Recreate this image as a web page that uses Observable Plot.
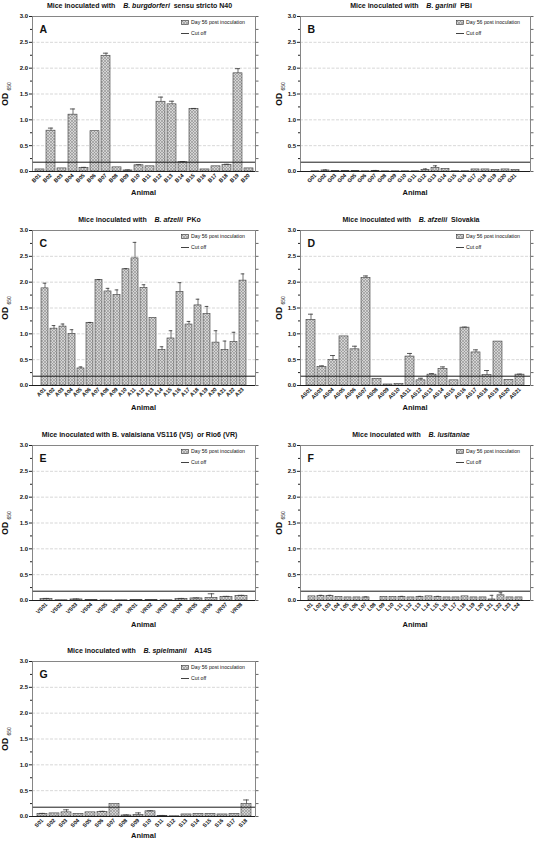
<!DOCTYPE html>
<html><head><meta charset="utf-8">
<script src="https://cdn.jsdelivr.net/npm/d3@7"></script>
<script src="https://cdn.jsdelivr.net/npm/@observablehq/plot@0.6"></script>
<style>
body{margin:0;background:#fff;font-family:"Liberation Sans",Arial,sans-serif;color:#111;}
#root{position:relative;width:536px;height:842px;overflow:hidden;}
.abs{position:absolute;}
.title{font-weight:bold;font-size:7px;white-space:pre;transform:translate(-50%,-50%);}
.ylab{font-weight:bold;font-size:8.5px;white-space:pre;transform:translate(-50%,-50%) rotate(-90deg);}
.ylab sub{font-size:5px;font-weight:normal;}
.xlab{font-weight:bold;font-size:7.5px;line-height:8px;transform:translate(-50%,-50%);}
.legend{font-size:5.2px;line-height:11px;}
.legend div{display:flex;align-items:center;justify-content:flex-start;white-space:pre;}
</style></head><body>
<svg width="0" height="0" style="position:absolute"><defs>
<pattern id="hatch" patternUnits="userSpaceOnUse" width="3" height="3">
<rect width="3" height="3" fill="#d4d4d4"/>
<path d="M0,0L3,3M3,0L0,3" stroke="#888" stroke-width="0.55"/>
</pattern></defs></svg>
<div id="root"></div>
<script>
const cutoff = 0.18;

// Panel A: B. burgdorferi N40
const animalsA = ["B01","B02","B03","B04","B05","B06","B07","B08","B09","B10","B11","B12","B13","B14","B15","B16","B17","B18","B19","B20"];
const valuesA  = [0.04,0.79,0.06,1.10,0.07,0.78,2.24,0.08,0.02,0.12,0.10,1.35,1.30,0.18,1.21,0.04,0.10,0.13,1.90,0.06];
const errorsA  = [0.04,0.84,0.06,1.21,0.08,0.78,2.29,0.08,0.03,0.13,0.10,1.44,1.36,0.19,1.22,0.04,0.10,0.14,1.99,0.06];

// Panel B: B. garinii PBi
const animalsB = ["G01","G02","G03","G04","G05","G06","G07","G08","G09","G10","G11","G12","G13","G14","G15","G16","G17","G18","G19","G20","G21"];
const valuesB  = [0.005,0.02,0.01,0.01,0.01,0.005,0.01,0.005,0.005,0.005,0.005,0.03,0.07,0.05,0.005,0.005,0.04,0.04,0.03,0.04,0.03];
const errorsB  = [0.005,0.03,0.01,0.01,0.01,0.005,0.02,0.005,0.005,0.005,0.005,0.05,0.11,0.05,0.005,0.005,0.04,0.04,0.03,0.04,0.03];

// Panel C: B. afzelii PKo
const animalsC = ["A01","A02","A03","A04","A05","A06","A07","A08","A09","A10","A11","A12","A13","A14","A15","A16","A17","A18","A19","A20","A21","A22","A23"];
const valuesC  = [1.88,1.10,1.14,1.00,0.33,1.21,2.04,1.82,1.75,2.25,2.46,1.89,1.31,0.69,0.91,1.81,1.18,1.55,1.38,0.83,0.69,0.84,2.03];
const errorsC  = [1.98,1.16,1.19,1.08,0.36,1.22,2.05,1.88,1.85,2.26,2.77,1.95,1.31,0.75,1.06,1.99,1.24,1.67,1.53,1.06,0.86,1.03,2.16];

// Panel D: B. afzelii Slovakia
const animalsD = ["AS01","AS03","AS04","AS05","AS06","AS07","AS08","AS09","AS10","AS11","AS12","AS13","AS14","AS15","AS16","AS17","AS18","AS19","AS20","AS21"];
const valuesD  = [1.27,0.36,0.49,0.95,0.70,2.08,0.13,0.02,0.03,0.56,0.10,0.21,0.32,0.10,1.12,0.64,0.20,0.85,0.11,0.21];
const errorsD  = [1.38,0.38,0.58,0.95,0.76,2.12,0.13,0.02,0.03,0.62,0.14,0.23,0.36,0.10,1.13,0.69,0.29,0.85,0.11,0.22];

// Panel E: B. valaisiana VS116 (VS) or Rio6 (VR)
const animalsE = ["VS01","VS02","VS03","VS04","VS05","VS06","VR01","VR02","VR03","VR04","VR05","VR06","VR07","VR08"];
const valuesE  = [0.03,0.005,0.02,0.01,0.005,0.005,0.01,0.01,0.005,0.03,0.04,0.05,0.07,0.09];
const errorsE  = [0.04,0.005,0.03,0.01,0.005,0.005,0.01,0.01,0.005,0.04,0.05,0.13,0.08,0.10];

// Panel F: B. lusitaniae
const animalsF = ["L01","L02","L03","L04","L05","L06","L07","L08","L09","L10","L11","L12","L13","L14","L15","L16","L17","L18","L19","L20","L21","L22","L23","L24"];
const valuesF  = [0.08,0.09,0.09,0.07,0.06,0.06,0.06,0.0,0.07,0.07,0.07,0.06,0.07,0.08,0.07,0.06,0.06,0.08,0.06,0.06,0.02,0.10,0.06,0.06];
const errorsF  = [0.08,0.10,0.10,0.07,0.06,0.06,0.07,0.0,0.07,0.07,0.08,0.06,0.08,0.08,0.08,0.06,0.06,0.08,0.06,0.06,0.10,0.15,0.06,0.06];

// Panel G: B. spielmanii A14S
const animalsG = ["S01","S02","S03","S04","S05","S06","S07","S08","S09","S10","S11","S12","S13","S14","S15","S16","S17","S18"];
const valuesG  = [0.05,0.06,0.08,0.05,0.08,0.09,0.24,0.02,0.03,0.10,0.01,0.005,0.04,0.05,0.05,0.04,0.05,0.24];
const errorsG  = [0.06,0.06,0.13,0.05,0.08,0.10,0.24,0.03,0.07,0.11,0.02,0.005,0.04,0.05,0.05,0.04,0.05,0.32];

const majorTicks = [0, 0.5, 1.0, 1.5, 2.0, 2.5, 3.0];
const minorTicks = [0.25, 0.75, 1.25, 1.75, 2.25, 2.75];
const gridTicks = [0.5, 1.0, 1.5, 2.0, 2.5];
const legendLabels = ["Day 56 post inoculation", "Cut off"];

const panels = [
  {letter:"A", col:0, row:0, animals:animalsA, values:valuesA, errors:errorsA,
   title:'Mice inoculated with    <i>B. burgdorferi</i>  sensu stricto N40'},
  {letter:"B", col:1, row:0, animals:animalsB, values:valuesB, errors:errorsB,
   title:'Mice inoculated with    <i>B. garinii</i>  PBi'},
  {letter:"C", col:0, row:1, animals:animalsC, values:valuesC, errors:errorsC,
   title:'Mice inoculated with    <i>B. afzelii</i>  PKo'},
  {letter:"D", col:1, row:1, animals:animalsD, values:valuesD, errors:errorsD,
   title:'Mice inoculated with    <i>B. afzelii</i>  Slovakia'},
  {letter:"E", col:0, row:2, animals:animalsE, values:valuesE, errors:errorsE,
   title:'Mice inoculated with B. valaisiana VS116 (VS)  or Rio6 (VR)'},
  {letter:"F", col:1, row:2, animals:animalsF, values:valuesF, errors:errorsF,
   title:'Mice inoculated with    <i>B. lusitaniae</i>'},
  {letter:"G", col:0, row:3, animals:animalsG, values:valuesG, errors:errorsG,
   title:'Mice inoculated with    <i>B. spielmanii</i>    A14S'}
];

const rowTops = [16, 230, 445, 661];
const animalOffsets = [22, 23, 25, 20];
const root = document.getElementById("root");
const plotH = 155, mT = 6, mB = 32;

function addDiv(cls, html, left, top, extra) {
  const d = document.createElement("div");
  d.className = "abs " + cls;
  d.innerHTML = html;
  d.style.left = left + "px";
  d.style.top = top + "px";
  if (extra) Object.assign(d.style, extra);
  root.appendChild(d);
  return d;
}

for (const p of panels) {
  const W = 268;
  const svgLeft = p.col * 268;
  const mL = 32, mR = p.col === 0 ? 13 : 6;
  const plotTop = rowTops[p.row];
  const plotLeft = svgLeft + mL, plotRight = svgLeft + W - mR;
  const data = p.animals.map((a, i) => ({animal: a, value: p.values[i], err: p.errors[i]}));
  const errData = data.filter(d => d.err > d.value + 0.001);
  const n = data.length, pad = 0.2;
  const step = (W - mL - mR) / (n + pad);
  const bw = step * (1 - pad);
  const ins = bw * 0.22;

  const chart = Plot.plot({
    width: W, height: mT + plotH + mB,
    marginLeft: mL, marginRight: mR, marginTop: mT, marginBottom: mB,
    style: {fontFamily: "Liberation Sans, Arial, sans-serif", fontSize: "6px", background: "transparent", overflow: "visible"},
    x: {type: "band", domain: p.animals, padding: pad, label: null},
    y: {domain: [0, 3], label: null},
    marks: [
      Plot.ruleY(gridTicks, {stroke: "#bdbdbd", strokeWidth: 0.6, strokeDasharray: "3,1.5"}),
      Plot.barY(data, {x: "animal", y: "value", fill: "url(#hatch)", stroke: "#3a3a3a", strokeWidth: 0.6}),
      Plot.ruleX(errData, {x: "animal", y1: "value", y2: "err", stroke: "#333", strokeWidth: 0.7}),
      Plot.tickY(errData, {x: "animal", y: "err", stroke: "#333", strokeWidth: 0.8, insetLeft: ins, insetRight: ins}),
      Plot.ruleY([cutoff], {stroke: "#1a1a1a", strokeWidth: 1}),
      Plot.frame({stroke: "#7a7a7a", strokeWidth: 0.9}),
      Plot.ruleY([0], {stroke: "#111", strokeWidth: 0.9}),
      Plot.axisY({ticks: majorTicks, tickFormat: d => d.toFixed(1), tickSize: 3, tickPadding: 1.5, fontWeight: "bold", fontSize: 6, label: null, stroke: "#222"}),
      Plot.axisY({ticks: minorTicks, tickFormat: () => "", tickSize: 2, label: null, stroke: "#222"}),
      Plot.axisY({anchor: "right", ticks: majorTicks.concat(minorTicks), tickFormat: () => "", tickSize: 2.5, label: null, stroke: "#666"}),
      Plot.axisX({tickRotate: -45, tickSize: 0, tickPadding: 3, fontSize: 5.5, fontWeight: "bold", label: null}),
      Plot.text([p.letter], {frameAnchor: "top-left", dx: 7, dy: 9, fontSize: 10.5, fontWeight: "bold", fill: "#111"})
    ]
  });
  chart.style.position = "absolute";
  chart.style.left = svgLeft + "px";
  chart.style.top = (plotTop - mT) + "px";
  root.appendChild(chart);

  const cx = (plotLeft + plotRight) / 2;
  addDiv("title", p.title, cx - 4, plotTop - 11);
  addDiv("ylab", 'OD <sub>650</sub>', p.col === 0 ? 6 : 280, plotTop + plotH / 2);
  addDiv("xlab", "Animal", cx, plotTop + plotH + animalOffsets[p.row]);

  const leg = addDiv("legend", "", plotRight - 74, plotTop + 1);
  leg.innerHTML =
    '<div><svg width="8" height="5" style="margin-right:2px"><rect x="0.5" y="0.5" width="7" height="4" fill="url(#hatch)" stroke="#333" stroke-width="0.6"/></svg>' + legendLabels[0] + '</div>' +
    '<div><svg width="8" height="5" style="margin-right:2px"><line x1="0" x2="8" y1="2.5" y2="2.5" stroke="#111" stroke-width="0.8"/></svg>' + legendLabels[1] + '</div>';
}
</script>
</body></html>
